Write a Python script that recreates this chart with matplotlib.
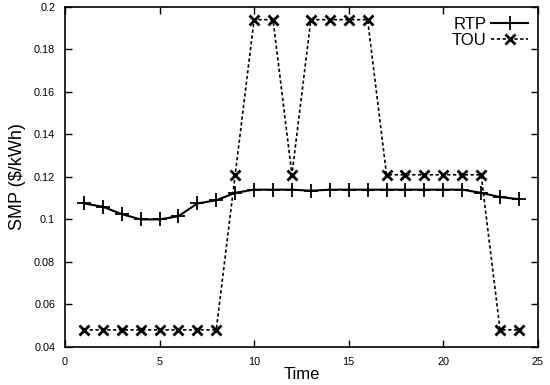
import matplotlib
matplotlib.use("Agg")
import matplotlib.pyplot as plt

plt.rcParams["font.family"] = ["Liberation Sans", "DejaVu Sans"]

hours = list(range(1, 25))
rtp = [0.1075, 0.106, 0.1025, 0.1, 0.1, 0.1015, 0.1075, 0.109,
       0.1125, 0.114, 0.114, 0.114, 0.1135, 0.114, 0.114, 0.114,
       0.114, 0.114, 0.114, 0.114, 0.114, 0.1125, 0.1105, 0.1095]
tou = [0.048, 0.048, 0.048, 0.048, 0.048, 0.048, 0.048, 0.048,
       0.121, 0.194, 0.194, 0.121, 0.194, 0.194, 0.194, 0.194,
       0.121, 0.121, 0.121, 0.121, 0.121, 0.121, 0.048, 0.048]

fig = plt.figure(figsize=(5.5, 3.85), dpi=100)
ax = fig.add_axes([0.118, 0.099, 0.86, 0.883])

ax.plot(hours, rtp, color="black", lw=1.5, marker="+", ms=10, mew=1.3, label="RTP")
ax.plot(hours, tou, color="black", lw=1.2, ls=(0, (2, 1.5)), marker="x", ms=7, mew=2,
        label="TOU")

ax.set_xlim(0, 25)
ax.set_ylim(0.04, 0.2)
ax.set_xticks([0, 5, 10, 15, 20, 25])
ax.set_yticks([0.04, 0.06, 0.08, 0.1, 0.12, 0.14, 0.16, 0.18, 0.2])
ax.set_yticklabels(["0.04", "0.06", "0.08", "0.1", "0.12", "0.14", "0.16", "0.18", "0.2"])
ax.tick_params(direction="in", top=True, right=True, length=5, width=1, labelsize=7.8, pad=7)
for s in ax.spines.values():
    s.set_linewidth(1.2)

ax.set_xlabel("Time", fontsize=12, labelpad=0)
ax.set_ylabel("SMP ($/kWh)", fontsize=13, labelpad=6)

ax.legend(loc="upper right", frameon=False, markerfirst=False, fontsize=12,
          handlelength=2.2, handletextpad=0.3, labelspacing=0.05,
          borderaxespad=0.2)

fig.savefig("out.png", dpi=100)
